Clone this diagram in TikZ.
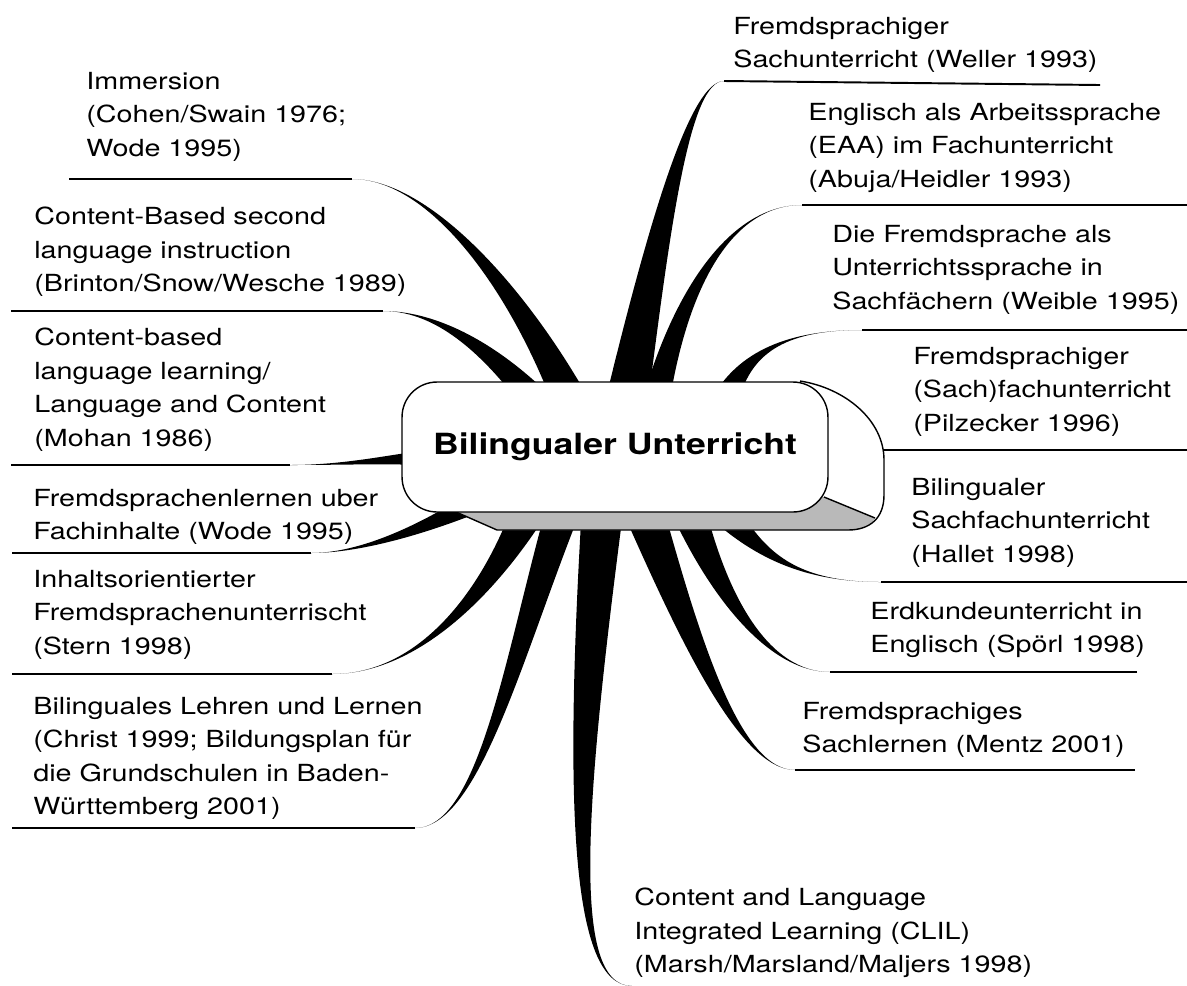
\documentclass[tikz,border=0pt]{standalone}
\usepackage{fontspec}
\setmainfont{TeX Gyre Heros}[FakeStretch=1.22]
\usetikzlibrary{calc}
\pgfdeclarelayer{back}
\pgfsetlayers{back,main}

\newcommand{\lblfont}{\fontsize{13.4}{19}\selectfont}
% tapered branch: start, control 1, control 2, end (offset from hub), half width
\newcommand{\twig}[5]{%
  \fill (#1) .. controls (#2) and ($(#3)+0.5*(#5)$) .. ($(hub)+(#4)+(#5)$)
    -- ($(hub)+(#4)-(#5)$) .. controls ($(#3)-0.5*(#5)$) and (#2) .. (#1);}

\begin{document}
\begin{tikzpicture}[x=0.02cm, y=-0.02cm,
    lbl/.style={anchor=north west, inner sep=0pt, align=left, font=\lblfont},
    rule/.style={line width=1.1pt},
    hubbox/.style={draw, thick, fill=white, rounded corners=0.7cm, minimum width=8.52cm, minimum height=2.6cm, font=\bfseries\fontsize{16.6}{20}\selectfont}]
    \useasboundingbox (0,0) rectangle (1187,985);

    % 3d side and bottom of the box
    \path[fill=white] (800,381) .. controls (845,388) and (884,420) .. (884,460) -- (884,495) .. controls (884,518) and (870,530) .. (848,530) -- (497,530) -- (447,508) -- cycle;
    \fill[gray!55] (447,508) -- (497,530) -- (848,530) .. controls (862,530) and (870,526) .. (875,518) -- (824,497) -- cycle;
    \draw[thick] (800,381) .. controls (845,388) and (884,420) .. (884,460) -- (884,495) .. controls (884,518) and (870,530) .. (848,530) -- (497,530) -- (447,508);
    \draw[thick] (824,497) -- (875,518);

    \node[hubbox] (hub) at (615,447) {Bilingualer Unterricht};

    % left
    \node[lbl] (immersion) at (86,72) {Immersion\\(Cohen/Swain 1976;\\Wode 1995)};
    \node[lbl] (cbsi) at (34,207) {Content-Based second\\language instruction\\(Brinton/Snow/Wesche 1989)};
    \node[lbl] (cbll) at (34,328) {Content-based\\language learning/\\Language and Content\\(Mohan 1986)};
    \node[lbl] (fsl) at (33,489) {Fremdsprachenlernen uber\\Fachinhalte (Wode 1995)};
    \node[lbl] (ifu) at (33,570) {Inhaltsorientierter\\Fremdsprachenunterrischt\\(Stern 1998)};
    \node[lbl] (blul) at (33,697) {Bilinguales Lehren und Lernen\\(Christ 1999; Bildungsplan für\\die Grundschulen in Baden-\\Württemberg 2001)};
    \node[lbl] (clil) at (634,888) {Content and Language\\Integrated Learning (CLIL)\\(Marsh/Marsland/Maljers 1998)};

    % right
    \node[lbl] (fsu) at (733,17) {Fremdsprachiger\\Sachunterricht (Weller 1993)};
    \node[lbl] (eaa) at (808,103) {Englisch als Arbeitssprache\\(EAA) im Fachunterricht\\(Abuja/Heidler 1993)};
    \node[lbl] (fsus) at (832,225) {Die Fremdsprache als\\Unterrichtssprache in\\Sachfächern (Weible 1995)};
    \node[lbl] (fsfu) at (913,347) {Fremdsprachiger\\(Sach)fachunterricht\\(Pilzecker 1996)};
    \node[lbl] (bsfu) at (911,478) {Bilingualer\\Sachfachunterricht\\(Hallet 1998)};
    \node[lbl] (erdk) at (870,602) {Erdkundeunterricht in\\Englisch (Spörl 1998)};
    \node[lbl] (fssl) at (802,702) {Fremdsprachiges\\Sachlernen (Mentz 2001)};

    \begin{pgfonlayer}{back}
    \coordinate (immersion-a) at (69,179);  \coordinate (immersion-b) at (352,179);
    \coordinate (cbsi-a) at (11,311);       \coordinate (cbsi-b) at (383,311);
    \coordinate (cbll-a) at (11,465);       \coordinate (cbll-b) at (290,465);
    \coordinate (fsl-a) at (12,553);        \coordinate (fsl-b) at (311,553);
    \coordinate (ifu-a) at (12,674);        \coordinate (ifu-b) at (332,674);
    \coordinate (blul-a) at (12,828);       \coordinate (blul-b) at (415,828);
    \coordinate (clil-b) at (632,986);
    \coordinate (fsu-a) at (1100,85);       \coordinate (fsu-b) at (724,81);
    \coordinate (eaa-a) at (1187,205);      \coordinate (eaa-b) at (802,205);
    \coordinate (fsus-a) at (1187,330);     \coordinate (fsus-b) at (862,330);
    \coordinate (fsfu-a) at (1187,450);
    \coordinate (bsfu-a) at (1187,582);     \coordinate (bsfu-b) at (881,582);
    \coordinate (erdk-a) at (1137,672);     \coordinate (erdk-b) at (830,672);
    \coordinate (fssl-a) at (1135,770);     \coordinate (fssl-b) at (795,770);

    \foreach \n in {immersion, cbsi, cbll, fsl, ifu, blul, fsu, eaa, fsus, bsfu, erdk, fssl}
        \draw[rule] (\n-a) -- (\n-b);
    \draw[rule] ($(hub)+(240,3)$) -- (fsfu-a);

    \twig{immersion-b}{430,179}{520,290}{-40,-37}{20,0}
    \twig{cbsi-b}{430,311}{480,340}{-85,-52}{10,-9}
    \twig{cbll-b}{340,465}{380,460}{-195,11}{0,7}
    \twig{fsl-b}{360,553}{420,530}{-145,58}{5,9}
    \twig{ifu-b}{420,674}{490,590}{-85,63}{19,0}
    \twig{blul-b}{480,828}{515,650}{-50,58}{18,0}
    \twig{clil-b}{570,986}{575,800}{-12,58}{21,0}
    \twig{fsu-b}{690,81}{660,220}{10,-37}{22,0}
    \twig{eaa-b}{730,205}{680,290}{40,-42}{14,0}
    \twig{fsus-b}{790,330}{745,350}{110,-47}{14,0}
    \twig{bsfu-b}{800,582}{760,555}{110,68}{18,0}
    \twig{erdk-b}{770,672}{720,600}{73,63}{18,0}
    \twig{fssl-b}{740,770}{690,640}{28,63}{21,0}
    \end{pgfonlayer}
\end{tikzpicture}
\end{document}
